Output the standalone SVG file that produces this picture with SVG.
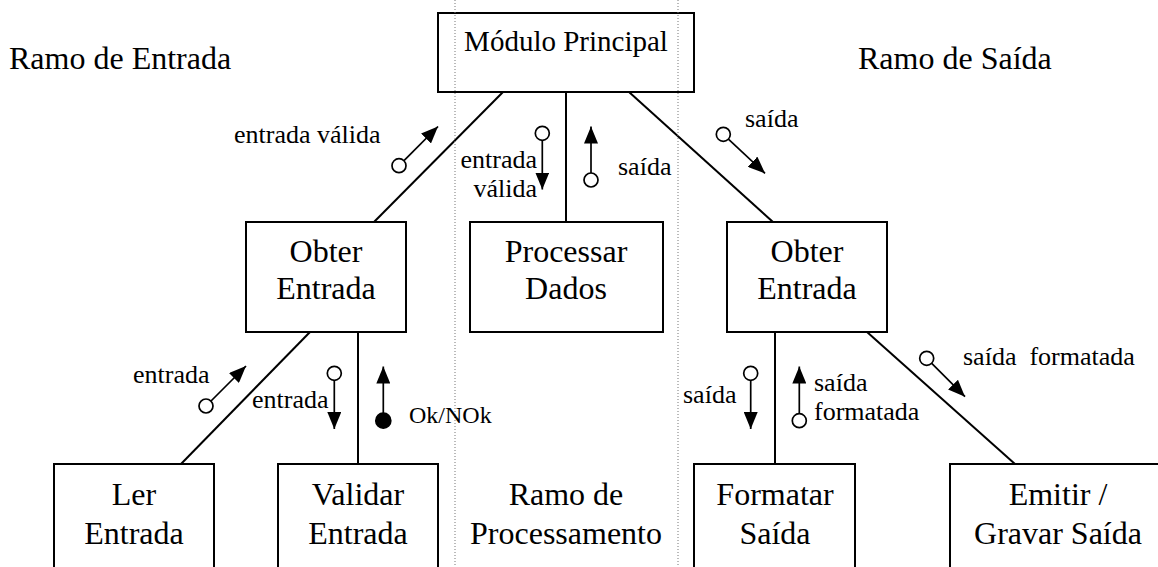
<svg xmlns="http://www.w3.org/2000/svg" width="1158" height="567" viewBox="0 0 1158 567">
<style>
text{font-family:"Liberation Serif","Times New Roman",serif;fill:#000}
.big{font-size:32px;text-anchor:middle}
.title{font-size:32px}
.lbl{font-size:26px}
.box{fill:#fff;stroke:#000;stroke-width:2}
.conn{stroke:#000;stroke-width:2;fill:none}
.flow{stroke:#000;stroke-width:1.7;fill:none}
.oc{fill:#fff;stroke:#000;stroke-width:1.7}
.fc{fill:#000;stroke:#000;stroke-width:1.7}
.dot{stroke:#777;stroke-width:1;stroke-dasharray:1 2}
</style>
<defs>
<marker id="ah" markerUnits="userSpaceOnUse" markerWidth="17" markerHeight="14" refX="17" refY="7" orient="auto" viewBox="0 0 17 14">
<path d="M0,0 L17,7 L0,14 z" fill="#000"/>
</marker>
</defs>
<rect width="1158" height="567" fill="#fff"/>

<g id="titles">
<text class="title" x="9" y="69">Ramo de Entrada</text>
<text class="title" x="858" y="69">Ramo de Saída</text>
<text class="big" x="566" y="505">Ramo de</text>
<text class="big" x="566" y="544">Processamento</text>
</g>

<g id="connectors">
<line class="conn" x1="503" y1="92" x2="374" y2="222"/>
<line class="conn" x1="566" y1="92" x2="566" y2="222"/>
<line class="conn" x1="629" y1="92" x2="773" y2="222"/>
<line class="conn" x1="310" y1="332" x2="181" y2="464"/>
<line class="conn" x1="358" y1="332" x2="358" y2="464"/>
<line class="conn" x1="775" y1="332" x2="775" y2="464"/>
<line class="conn" x1="867" y1="332" x2="1015" y2="464"/>
</g>

<g id="node-modulo-principal">
<rect class="box" x="438" y="13" width="256" height="79"/>
<text class="big" x="566" y="51" style="font-size:29px">Módulo Principal</text>
</g>
<g id="node-obter-entrada-1">
<rect class="box" x="246" y="222" width="160" height="110"/>
<text class="big" x="326" y="262">Obter</text>
<text class="big" x="326" y="299">Entrada</text>
</g>
<g id="node-processar-dados">
<rect class="box" x="470" y="222" width="193" height="110"/>
<text class="big" x="566" y="262">Processar</text>
<text class="big" x="566" y="299">Dados</text>
</g>
<g id="node-obter-entrada-2">
<rect class="box" x="727" y="222" width="160" height="110"/>
<text class="big" x="807" y="262">Obter</text>
<text class="big" x="807" y="299">Entrada</text>
</g>
<g id="node-ler-entrada">
<rect class="box" x="54" y="464" width="160" height="115"/>
<text class="big" x="134" y="505">Ler</text>
<text class="big" x="134" y="544">Entrada</text>
</g>
<g id="node-validar-entrada">
<rect class="box" x="278" y="464" width="160" height="115"/>
<text class="big" x="358" y="505">Validar</text>
<text class="big" x="358" y="544">Entrada</text>
</g>
<g id="node-formatar-saida">
<rect class="box" x="694" y="464" width="161" height="115"/>
<text class="big" x="775" y="505">Formatar</text>
<text class="big" x="775" y="544">Saída</text>
</g>
<g id="node-emitir-gravar-saida">
<rect class="box" x="950" y="464" width="216" height="115"/>
<text class="big" x="1058" y="505">Emitir /</text>
<text class="big" x="1058" y="544">Gravar Saída</text>
</g>

<g id="dotted-separators">
<line class="dot" x1="455" y1="0" x2="455" y2="567"/>
<line class="dot" x1="678" y1="0" x2="678" y2="567"/>
</g>

<g id="data-flows">
<line class="flow" x1="404" y1="160.7" x2="438" y2="126.5" marker-end="url(#ah)"/>
<circle class="oc" cx="399" cy="165.7" r="7"/>
<line class="flow" x1="542.3" y1="140.3" x2="542.3" y2="189.5" marker-end="url(#ah)"/>
<circle class="oc" cx="542.3" cy="133.3" r="7"/>
<line class="flow" x1="591" y1="173" x2="591" y2="126.5" marker-end="url(#ah)"/>
<circle class="oc" cx="591" cy="180" r="7"/>
<line class="flow" x1="728.4" y1="139.1" x2="765" y2="173.3" marker-end="url(#ah)"/>
<circle class="oc" cx="723.3" cy="134.3" r="7"/>
<line class="flow" x1="211" y1="401" x2="246" y2="366" marker-end="url(#ah)"/>
<circle class="oc" cx="206" cy="406" r="7"/>
<line class="flow" x1="334.3" y1="380.3" x2="334.3" y2="429" marker-end="url(#ah)"/>
<circle class="oc" cx="334.3" cy="373.3" r="7"/>
<line class="flow" x1="383.3" y1="413" x2="383.3" y2="366.5" marker-end="url(#ah)"/>
<circle class="fc" cx="383.3" cy="420.7" r="7.5"/>
<line class="flow" x1="750.7" y1="380.3" x2="750.7" y2="429" marker-end="url(#ah)"/>
<circle class="oc" cx="750.7" cy="373.3" r="7"/>
<line class="flow" x1="799.3" y1="413.7" x2="799.3" y2="366.5" marker-end="url(#ah)"/>
<circle class="oc" cx="799.3" cy="420.7" r="7"/>
<line class="flow" x1="931.7" y1="363.3" x2="965" y2="396.7" marker-end="url(#ah)"/>
<circle class="oc" cx="926.7" cy="358.3" r="7"/>
</g>

<g id="flow-labels">
<text class="lbl" x="234" y="143">entrada válida</text>
<text class="lbl" x="537" y="168" text-anchor="end">entrada</text>
<text class="lbl" x="537" y="197" text-anchor="end">válida</text>
<text class="lbl" x="618" y="175">saída</text>
<text class="lbl" x="745" y="127">saída</text>
<text class="lbl" x="133" y="383">entrada</text>
<text class="lbl" x="252" y="408">entrada</text>
<text class="lbl" x="409" y="423" style="font-size:24px">Ok/NOk</text>
<text class="lbl" x="683" y="403">saída</text>
<text class="lbl" x="814" y="391">saída</text>
<text class="lbl" x="814" y="420">formatada</text>
<text class="lbl" x="963" y="365" xml:space="preserve" style="white-space:pre">saída  formatada</text>
</g>
</svg>
